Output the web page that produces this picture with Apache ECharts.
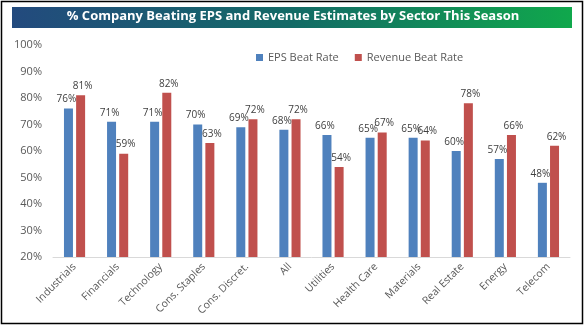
<!DOCTYPE html>
<html><head><meta charset="utf-8">
<script src="https://cdn.jsdelivr.net/npm/echarts@6/dist/echarts.min.js"></script>
<style>html,body{margin:0;padding:0;background:#fff}#c{width:586px;height:326px}</style>
</head><body><div id="c"></div>
<script>
const categories = ["Industrials","Financials","Technology","Cons. Staples","Cons. Discret.","All","Utilities","Health Care","Materials","Real Estate","Energy","Telecom"];
const epsBeatRate = [76,71,71,70,69,68,66,65,65,60,57,48];
const revenueBeatRate = [81,59,82,63,72,72,54,67,64,78,66,62];
const yTicks = {min:20, max:100, interval:10};

const chart = echarts.init(document.getElementById('c'));
const font = '"Open Sans", "Liberation Sans", sans-serif';
const lbl = (dx) => ({show:true, position:'top', formatter:p=>p.value+'%', color:'#404040', fontSize:10, fontFamily:font, distance:4, offset:[dx,0]});
chart.setOption({
  animation:false,
  graphic:[
    {type:'rect', shape:{x:1.5,y:1.5,width:581,height:322}, style:{fill:'none', stroke:'#000', lineWidth:1.5}, z:0},
    {type:'rect', shape:{x:12,y:7,width:560,height:21}, style:{fill:new echarts.graphic.LinearGradient(0,0,1,0,[{offset:0,color:'#234A7E'},{offset:0.5,color:'#136A66'},{offset:1,color:'#10A84C'}])}, z:0}
  ],
  title:{text:'% Company Beating EPS and Revenue Estimates by Sector This Season', left:'center', top:10, padding:0,
    textStyle:{color:'#fff', fontSize:13, fontWeight:'bold', fontFamily:font}},
  legend:{top:47, left:251, itemWidth:7, itemHeight:7, itemGap:16, icon:'rect',
    textStyle:{color:'#595959', fontSize:11, fontFamily:font}},
  grid:{left:53, right:16, top:45, bottom:69, containLabel:false},
  xAxis:{type:'category', data:categories,
    axisLine:{lineStyle:{color:'#D9D9D9'}}, axisTick:{show:false},
    axisLabel:{rotate:45, color:'#595959', fontSize:10.5, fontFamily:font, interval:0, margin:8}},
  yAxis:{type:'value', min:yTicks.min, max:yTicks.max, interval:yTicks.interval,
    axisLine:{show:false}, axisTick:{show:false}, splitLine:{show:false},
    axisLabel:{formatter:'{value}%', color:'#595959', fontSize:11, fontFamily:font, margin:11}},
  series:[
    {name:'EPS Beat Rate', type:'bar', data:epsBeatRate, itemStyle:{color:'#4F81BD'}, barWidth:9, barGap:'35%', label:lbl(-2)},
    {name:'Revenue Beat Rate', type:'bar', data:revenueBeatRate, itemStyle:{color:'#C0504D'}, barWidth:9, label:lbl(2)}
  ]
});
</script></body></html>
